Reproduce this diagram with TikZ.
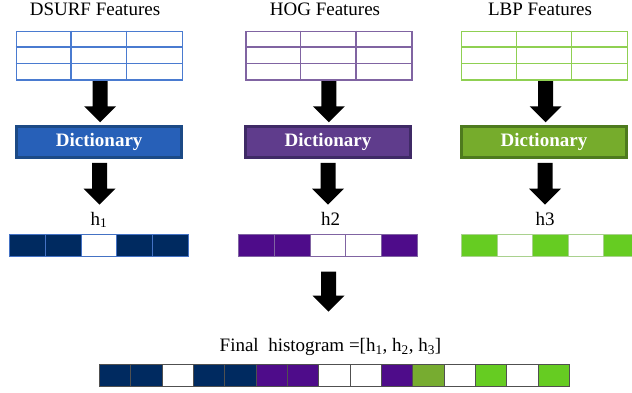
\documentclass[tikz,border=0pt]{standalone}
\usepackage{fontspec}
\setmainfont{Liberation Serif}
\usetikzlibrary{calc}
\definecolor{tblblue}{HTML}{4A7BD0}
\definecolor{tblpurple}{HTML}{8064A2}
\definecolor{tblgreen}{HTML}{8FD052}
\definecolor{dictblue}{HTML}{2760B8}
\definecolor{dictblueb}{HTML}{1C4A86}
\definecolor{dictpurple}{HTML}{5F3C8C}
\definecolor{dictpurpleb}{HTML}{3F2A66}
\definecolor{dictgreen}{HTML}{76AC2C}
\definecolor{dictgreenb}{HTML}{4E7A1E}
\definecolor{navy}{HTML}{002A60}
\definecolor{hpurple}{HTML}{4E0C8A}
\definecolor{hgreen}{HTML}{66CC22}
\definecolor{olive}{HTML}{77AC30}
\definecolor{barblue}{HTML}{4472C4}
\definecolor{barpurple}{HTML}{8064A2}
\definecolor{bargreen}{HTML}{A9D18E}
\definecolor{bargrey}{HTML}{505050}
\newcommand\ftable[4]{% name, x, y, colour
  \node[draw=#4, line width=1.2pt, inner sep=0pt, minimum width=166pt, minimum height=48.6pt, anchor=north west] (#1) at (#2,#3) {};
  \draw[#4, line width=1.2pt] ($(#1.north west)+(55.33,0)$) -- ($(#1.south west)+(55.33,0)$)
    ($(#1.north west)+(110.67,0)$) -- ($(#1.south west)+(110.67,0)$)
    ($(#1.north west)+(0,16.2)$) -- ($(#1.north east)+(0,16.2)$)
    ($(#1.north west)+(0,32.4)$) -- ($(#1.north east)+(0,32.4)$);
}
\newcommand\barrow[2]{%
  \fill[black] let \p1=(#1), \p2=(#2) in
    (\x1-7.5pt,\y1) -- (\x1+7.5pt,\y1) -- (\x1+7.5pt,\y2+16pt) -- (\x1+16pt,\y2+16pt)
    -- (\x1,\y2) -- (\x1-16pt,\y2+16pt) -- (\x1-7.5pt,\y2+16pt) -- cycle;}
\begin{document}
\begin{tikzpicture}[x=1pt,y=-1pt,
  title/.style={font=\fontsize{19}{22}\selectfont, anchor=base, inner sep=0pt},
  lbl/.style={font=\fontsize{19}{22}\selectfont, anchor=base, inner sep=0pt},
  dict/.style={line width=2.5pt, minimum width=165pt, minimum height=31pt, inner sep=0pt,
    text=white, font=\fontsize{19}{22}\selectfont\bfseries}]
\useasboundingbox (0,0) rectangle (632,392);
\begin{scope}
\clip (0,0) rectangle (632,392);
% titles
\node[title] (tA) at (95,15) {DSURF Features};
\node[title] (tB) at (325,15) {HOG Features};
\node[title] (tC) at (540,15) {LBP Features};
% feature tables
\ftable{fA}{15.7}{30.7}{tblblue}
\ftable{fB}{245.3}{30.7}{tblpurple}
\ftable{fC}{461}{30.7}{tblgreen}
% dictionaries
\node[dict, fill=dictblue, draw=dictblueb] (dA) at (99.2,142) {Dictionary};
\node[dict, fill=dictpurple, draw=dictpurpleb] (dB) at (328,142) {Dictionary};
\node[dict, fill=dictgreen, draw=dictgreenb] (dC) at (544,142) {Dictionary};
% labels
\node[lbl] (hA) at (99,225) {h\textsubscript{1}};
\node[lbl] (hB) at (330.5,225) {h2};
\node[lbl] (hC) at (545,225) {h3};
% histograms
\foreach \c [count=\i from 0] in {navy,navy,white,navy,navy}
  \draw[barblue, fill=\c, line width=0.8pt] (9.3+\i*35.8,234) rectangle ++(35.8,22.7);
\foreach \c [count=\i from 0] in {hpurple,hpurple,white,white,hpurple}
  \draw[barpurple, fill=\c, line width=0.8pt] (238.3+\i*35.8,234) rectangle ++(35.8,22.7);
\foreach \c [count=\i from 0] in {hgreen,white,hgreen,white,hgreen}
  \draw[bargreen, fill=\c, line width=0.8pt] (461.7+\i*35.5,234) rectangle ++(35.5,22.7);
\coordinate (hBbot) at (328.5,256.7);
% final
\node[lbl] (fin) at (330.5,351.7) {Final\ \ histogram =[h\textsubscript{1}, h\textsubscript{2}, h\textsubscript{3}]};
\foreach \c [count=\i from 0] in {navy,navy,white,navy,navy,hpurple,hpurple,white,white,hpurple,olive,white,hgreen,white,hgreen}
  \draw[bargrey, fill=\c, line width=0.7pt] (99.3+\i*31.33,364.3) rectangle ++(31.33,22.4);
% block arrows
\barrow{$(fA.south)+(0.8,0.7)$}{$(dA.north)+(0.3,-3)$}
\barrow{$(fB.south)+(0,0.7)$}{$(dB.north)+(0,-3)$}
\barrow{$(fC.south)+(1,0.7)$}{$(dC.north)+(1,-3)$}
\barrow{$(dA.south)+(0.3,4)$}{$(hA.north)+(0.5,-7)$}
\barrow{$(dB.south)+(0,4)$}{$(hB.north)+(-2,-7)$}
\barrow{$(dC.south)+(1,4)$}{$(hC.north)+(0,-7)$}
\barrow{$(hBbot)+(0,15)$}{$(hBbot)+(0,55)$}
\end{scope}
\end{tikzpicture}
\end{document}
